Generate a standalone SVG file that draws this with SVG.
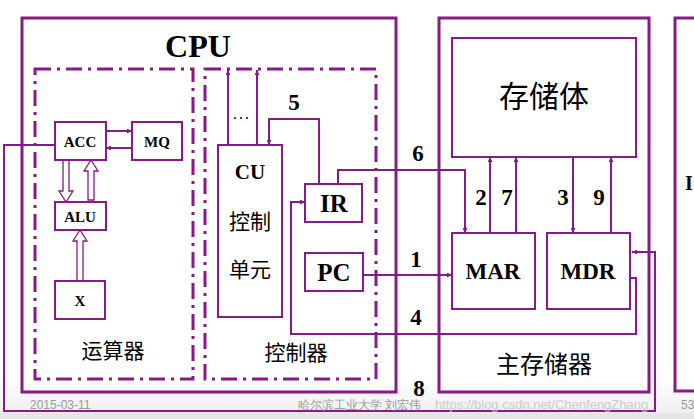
<svg xmlns="http://www.w3.org/2000/svg" width="694" height="419" viewBox="0 0 694 419">
<defs>
<style>
.box{fill:none;stroke:#861a86;stroke-width:3}
.nb{fill:#fff;stroke:#861a86;stroke-width:2}
.dd{fill:none;stroke:#861a86;stroke-width:3;stroke-dasharray:16 6 3 6}
.ln{fill:none;stroke:#861a86;stroke-width:2}
.hol{fill:#fff;stroke:#861a86;stroke-width:1.3}
.en{font-family:"Liberation Serif",serif;font-weight:bold;fill:#000;text-anchor:middle}
.zh{font-family:"Noto Sans CJK SC",sans-serif;fill:#000;text-anchor:middle}
.ft{font-family:"Liberation Sans",sans-serif;fill:#999;font-size:12px}
</style>
<marker id="ah" viewBox="0 0 10 10" refX="10" refY="5" markerWidth="5" markerHeight="5" orient="auto" markerUnits="userSpaceOnUse"><path d="M0,0 L10,5 L0,10 z" fill="#861a86"/></marker>
<linearGradient id="bg" x1="0" y1="0" x2="0" y2="1"><stop offset="0.9" stop-color="#fff"/><stop offset="1" stop-color="#ececec"/></linearGradient>
</defs>
<rect width="694" height="419" fill="url(#bg)"/>
<rect x="0" y="413" width="694" height="6" fill="#e6e6e6"/>

<g id="cpu"><rect class="box" x="22" y="18" width="374" height="374"/><text class="en" x="198" y="57" font-size="32">CPU</text></g>
<g id="alu-unit"><rect class="dd" x="35" y="69" width="158" height="310"/><text class="zh" x="113" y="358" font-size="21">运算器</text></g>
<g id="ctrl-unit"><rect class="dd" x="205" y="69" width="171" height="310"/><text class="zh" x="296" y="360" font-size="21">控制器</text></g>
<g id="mem"><rect class="box" x="439" y="18" width="210" height="374"/><text class="zh" x="544" y="373" font-size="24">主存储器</text></g>
<g id="io"><rect class="box" x="675" y="18" width="30" height="373"/><text class="en" x="689" y="190" font-size="20">I</text></g>

<g id="connectors">
<path class="hol" d="M63,160 V191 H59 L66,202 L73,191 H69 V160 Z"/>
<path class="hol" d="M88,200 V171 H84 L91,160 L98,171 H94 V200 Z"/>
<path class="hol" d="M77,281 V241 H73 L80,230 L87,241 H83 V281 Z"/>
<line class="ln" x1="106" y1="131" x2="132" y2="131" marker-end="url(#ah)"/>
<line class="ln" x1="132" y1="148" x2="106" y2="148" marker-end="url(#ah)"/>
<path class="ln" d="M55,145 H4 V411 H655 V252 H632" marker-end="url(#ah)"/>
<line class="ln" x1="228" y1="145" x2="228" y2="70" marker-end="url(#ah)"/>
<line class="ln" x1="257" y1="145" x2="257" y2="70" marker-end="url(#ah)"/>
<line x1="234" y1="118" x2="252" y2="118" stroke="#861a86" stroke-width="2" stroke-dasharray="2 4"/>
<path class="ln" d="M319,184 V119 H269 V145" marker-end="url(#ah)"/>
<path class="ln" d="M338,184 V170 H465 V233" marker-end="url(#ah)"/>
<line class="ln" x1="363" y1="275" x2="452" y2="275" marker-end="url(#ah)"/>
<path class="ln" d="M630,278 H636 V334 H291 V202 H305" marker-end="url(#ah)"/>
<line class="ln" x1="490" y1="233" x2="490" y2="157" marker-end="url(#ah)"/>
<line class="ln" x1="516" y1="233" x2="516" y2="157" marker-end="url(#ah)"/>
<line class="ln" x1="573" y1="157" x2="573" y2="233" marker-end="url(#ah)"/>
<line class="ln" x1="611" y1="233" x2="611" y2="157" marker-end="url(#ah)"/>
<g class="en" font-size="23">
<text x="294" y="110">5</text><text x="418" y="161">6</text><text x="416" y="267">1</text><text x="416" y="325">4</text><text x="419" y="396">8</text>
<text x="481" y="205">2</text><text x="507" y="205">7</text><text x="563" y="205">3</text><text x="599" y="205">9</text>
</g>
</g>

<g id="acc"><rect class="nb" x="55" y="122" width="51" height="38"/><text class="en" x="80" y="147" font-size="15">ACC</text></g>
<g id="mq"><rect class="nb" x="132" y="122" width="50" height="38"/><text class="en" x="157" y="147" font-size="15">MQ</text></g>
<g id="alu"><rect class="nb" x="55" y="202" width="51" height="28"/><text class="en" x="80" y="222" font-size="15">ALU</text></g>
<g id="x"><rect class="nb" x="55" y="281" width="50" height="38"/><text class="en" x="80" y="306" font-size="15">X</text></g>
<g id="cu"><rect class="nb" x="218" y="145" width="64" height="172"/><text class="en" x="250" y="179" font-size="21">CU</text><text class="zh" x="250" y="229" font-size="21">控制</text><text class="zh" x="250" y="277" font-size="21">单元</text></g>
<g id="ir"><rect class="nb" x="305" y="184" width="57" height="38"/><text class="en" x="334" y="212" font-size="25">IR</text></g>
<g id="pc"><rect class="nb" x="305" y="253" width="58" height="38"/><text class="en" x="334" y="281" font-size="25">PC</text></g>
<g id="storage"><rect class="nb" x="452" y="38" width="184" height="119"/><text class="zh" x="544" y="107" font-size="30">存储体</text></g>
<g id="mar"><rect class="nb" x="452" y="233" width="83" height="76"/><text class="en" x="493" y="279" font-size="23">MAR</text></g>
<g id="mdr"><rect class="nb" x="547" y="233" width="83" height="76"/><text class="en" x="588" y="279" font-size="23">MDR</text></g>

<g id="footer">
<text class="ft" x="30" y="409">2015-03-11</text>
<text class="ft" x="298" y="409" font-family="Noto Sans CJK SC,sans-serif" font-size="10">哈尔滨工业大学 刘宏伟</text>
<text x="435" y="409" font-family="Liberation Sans,sans-serif" font-size="13" fill="#ccc">https://blog.csdn.net/ChenfengZhang</text>
<text class="ft" x="681" y="409" font-size="10">53</text>
</g>
</svg>
